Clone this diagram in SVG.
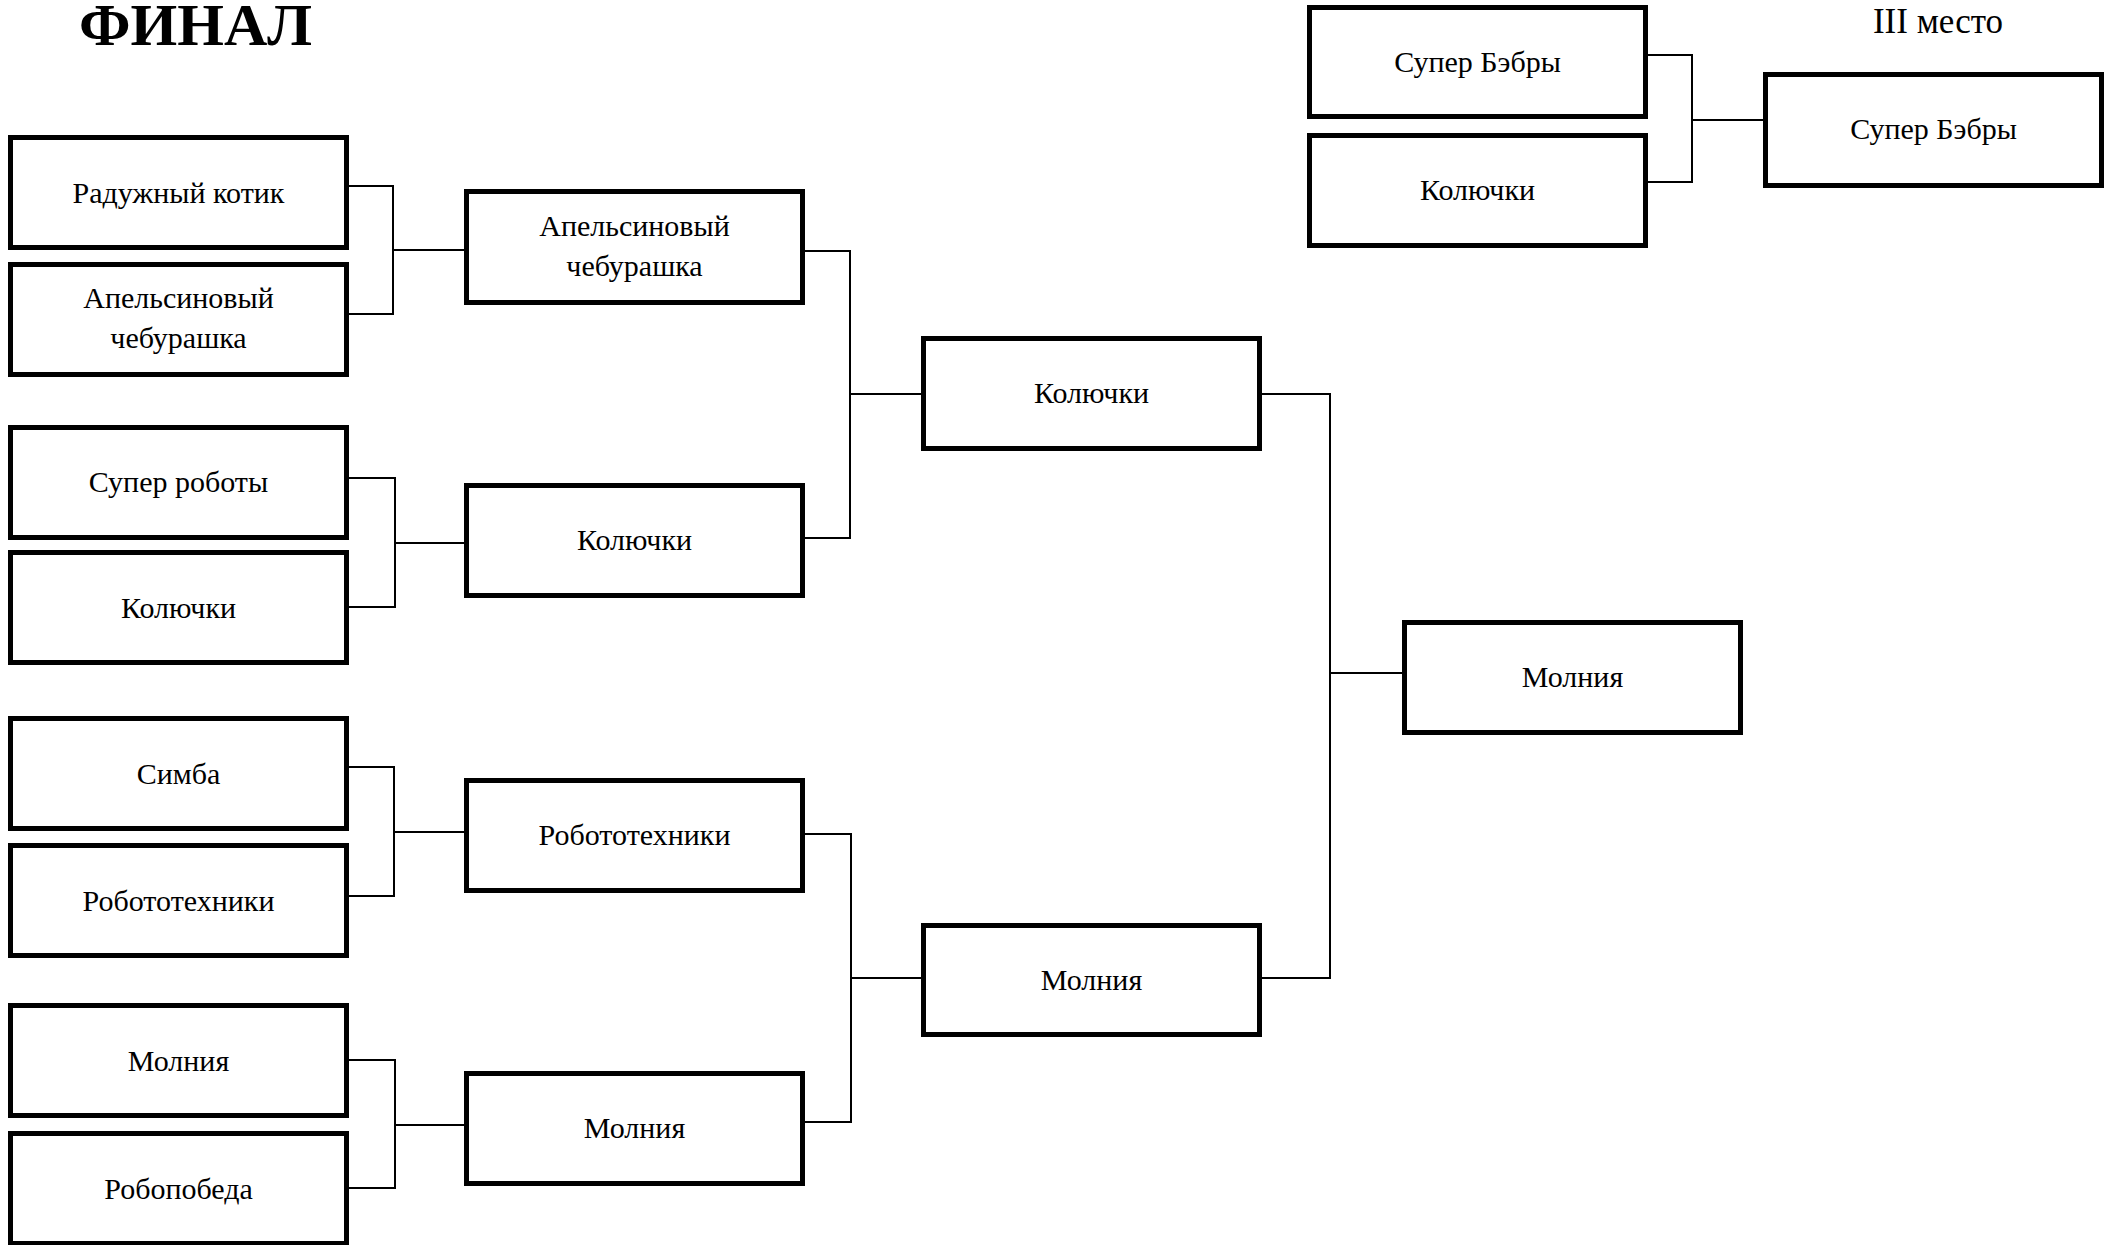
<svg xmlns="http://www.w3.org/2000/svg" width="2114" height="1245" viewBox="0 0 2114 1245">
<style>
.box{fill:#fff;stroke:#000;stroke-width:5}
.t{font-family:"Liberation Serif","Times New Roman",serif;font-size:30px;fill:#000;text-anchor:middle}
.c{fill:none;stroke:#000;stroke-width:2}
</style>
<rect width="2114" height="1245" fill="#fff"/>
<text x="195.5" y="45" font-family="Liberation Serif, Times New Roman, serif" font-size="60" font-weight="bold" text-anchor="middle">ФИНАЛ</text>
<text x="1938" y="33" font-family="Liberation Serif, Times New Roman, serif" font-size="35" text-anchor="middle">III место</text>
<g id="connectors">
<path class="c" d="M349 186H393V314H349M393 250H464"/>
<path class="c" d="M349 478H395V607H349M395 543H464"/>
<path class="c" d="M349 767H394V896H349M394 832H464"/>
<path class="c" d="M349 1060H395V1188H349M395 1125H464"/>
<path class="c" d="M805 251H850V538H805M850 394H921"/>
<path class="c" d="M805 834H851V1122H805M851 978H921"/>
<path class="c" d="M1262 394H1330V978H1262M1330 673H1402"/>
<path class="c" d="M1648 55H1692V182H1648M1692 120H1763"/>
</g>
<g id="r1-1"><rect class="box" x="10.5" y="137.5" width="336" height="110"/><text class="t" x="178.5" y="202.5">Радужный котик</text></g>
<g id="r1-2"><rect class="box" x="10.5" y="264.5" width="336" height="110"/><text class="t" x="178.5" y="307.5">Апельсиновый</text><text class="t" x="178.5" y="348">чебурашка</text></g>
<g id="r1-3"><rect class="box" x="10.5" y="427.5" width="336" height="110"/><text class="t" x="178.5" y="492">Супер роботы</text></g>
<g id="r1-4"><rect class="box" x="10.5" y="552.5" width="336" height="110"/><text class="t" x="178.5" y="617.5">Колючки</text></g>
<g id="r1-5"><rect class="box" x="10.5" y="718.5" width="336" height="110"/><text class="t" x="178.5" y="783.5">Симба</text></g>
<g id="r1-6"><rect class="box" x="10.5" y="845.5" width="336" height="110"/><text class="t" x="178.5" y="910.5">Робототехники</text></g>
<g id="r1-7"><rect class="box" x="10.5" y="1005.5" width="336" height="110"/><text class="t" x="178.5" y="1070.5">Молния</text></g>
<g id="r1-8"><rect class="box" x="10.5" y="1133.5" width="336" height="110"/><text class="t" x="178.5" y="1198.5">Робопобеда</text></g>
<g id="r2-1"><rect class="box" x="466.5" y="191.5" width="336" height="111"/><text class="t" x="634.5" y="235.5">Апельсиновый</text><text class="t" x="634.5" y="276">чебурашка</text></g>
<g id="r2-2"><rect class="box" x="466.5" y="485.5" width="336" height="110"/><text class="t" x="634.5" y="550">Колючки</text></g>
<g id="r2-3"><rect class="box" x="466.5" y="780.5" width="336" height="110"/><text class="t" x="634.5" y="845">Робототехники</text></g>
<g id="r2-4"><rect class="box" x="466.5" y="1073.5" width="336" height="110"/><text class="t" x="634.5" y="1138">Молния</text></g>
<g id="r3-1"><rect class="box" x="923.5" y="338.5" width="336" height="110"/><text class="t" x="1091.5" y="403">Колючки</text></g>
<g id="r3-2"><rect class="box" x="923.5" y="925.5" width="336" height="109"/><text class="t" x="1091.5" y="989.5">Молния</text></g>
<g id="final"><rect class="box" x="1404.5" y="622.5" width="336" height="110"/><text class="t" x="1572.5" y="687">Молния</text></g>
<g id="third-1"><rect class="box" x="1309.5" y="7.5" width="336" height="109"/><text class="t" x="1477.5" y="72">Супер Бэбры</text></g>
<g id="third-2"><rect class="box" x="1309.5" y="135.5" width="336" height="110"/><text class="t" x="1477.5" y="200">Колючки</text></g>
<g id="third-final"><rect class="box" x="1765.5" y="74.5" width="336" height="111"/><text class="t" x="1933.5" y="139">Супер Бэбры</text></g>
</svg>
